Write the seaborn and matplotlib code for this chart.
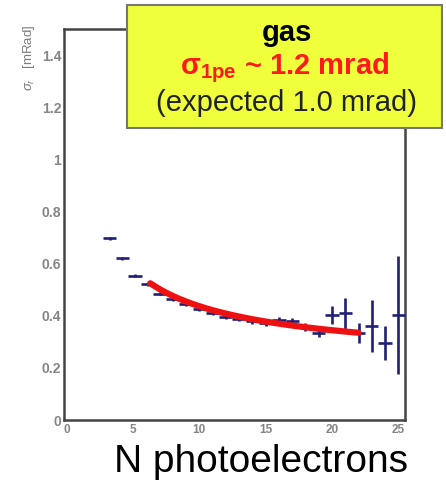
import numpy as np
import pandas as pd
import matplotlib
matplotlib.use("Agg")
import matplotlib.pyplot as plt
from matplotlib.patches import Rectangle
from matplotlib.ticker import MultipleLocator, FixedLocator
import seaborn as sns

# Measured single-track resolution per number of photoelectrons (bin mean N)
n_pe = [3.25, 4.2, 5.15, 6.1, 7, 8, 9, 10, 11, 12, 13, 14, 15, 16, 17, 18, 19,
        20, 21, 22, 23, 24, 25]
sigma = [0.697, 0.620, 0.553, 0.521, 0.485, 0.463, 0.447, 0.427, 0.412, 0.397, 0.387,
         0.378, 0.372, 0.383, 0.380, 0.357, 0.333, 0.404, 0.410, 0.335, 0.360, 0.296, 0.404]
sigma_err = [0.006, 0.006, 0.006, 0.007, 0.007, 0.007, 0.008, 0.008, 0.008, 0.009, 0.009,
             0.010, 0.010, 0.011, 0.012, 0.014, 0.016, 0.035, 0.060, 0.038, 0.100, 0.065, 0.226]
bin_half_width = 0.5

# Fit: sigma(N) = sqrt(sigma_1pe^2 / N + c^2)
sigma_1pe = 1.2
sigma_const = 0.216
fit_range = (6.3, 22.0)

x_ticks = [0, 5, 10, 15, 20, 25]
y_ticks = [0, 0.2, 0.4, 0.6, 0.8, 1.0, 1.2, 1.4]
y_tick_labels = ["0", "0.2", "0.4", "0.6", "0.8", "1", "1.2", "1.4"]

sns.set_theme(style="white")
plt.rcParams["font.family"] = ["Liberation Sans", "DejaVu Sans"]
plt.rcParams["mathtext.fontset"] = "custom"
plt.rcParams["mathtext.rm"] = "Liberation Sans"
plt.rcParams["mathtext.it"] = "Liberation Sans:italic"
plt.rcParams["mathtext.bf"] = "Liberation Sans:bold"

fig = plt.figure(figsize=(4.46, 4.84), dpi=100)
ax = fig.add_axes([0.1435, 0.1322, 0.908 - 0.1435, 0.940 - 0.1322])

df = pd.DataFrame({"N": n_pe, "sigma": sigma, "err": sigma_err})

navy = "#1f1f78"
ax.errorbar(df["N"], df["sigma"], yerr=df["err"], xerr=bin_half_width,
            fmt="none", ecolor=navy, elinewidth=1.9, capsize=0, zorder=3)

n_fit = np.linspace(fit_range[0], fit_range[1], 200)
fit_df = pd.DataFrame({"N": n_fit,
                       "sigma": np.sqrt(sigma_1pe ** 2 / n_fit + sigma_const ** 2)})
sns.lineplot(data=fit_df, x="N", y="sigma", ax=ax, color="#ee1111",
             linewidth=4.5, zorder=4, legend=False)

ax.set_xlim(-0.2, 25.5)
ax.set_ylim(0, 1.5)
ax.xaxis.set_major_locator(FixedLocator(x_ticks))
ax.xaxis.set_minor_locator(MultipleLocator(1))
ax.yaxis.set_major_locator(FixedLocator(y_ticks))
ax.yaxis.set_minor_locator(MultipleLocator(0.04))
ax.set_yticklabels(y_tick_labels)
ax.set_xticklabels([str(t) for t in x_ticks])

ax.tick_params(axis="both", which="major", direction="in", length=9, width=1.6,
               color="#333333", labelsize=10, labelcolor="#858585",
               top=False, right=False, pad=2)
ax.tick_params(axis="both", which="minor", direction="in", length=4.5, width=1.4,
               color="#333333", top=False, right=False)
ax.tick_params(axis="x", which="major", labelsize=8.5, pad=3)
for lab in ax.get_xticklabels() + ax.get_yticklabels():
    lab.set_fontweight("bold")

for side, sp in ax.spines.items():
    sp.set_visible(True)
    sp.set_color("#444444")
    sp.set_linewidth(1.8)

ax.set_xlabel("")
ax.set_ylabel(r"$\sigma_{r}$   [mRad]", fontsize=9.5, color="#7a7a7a", labelpad=0)
ax.yaxis.set_label_coords(-0.08, 0.927)

# Axis title under the plot
fig.text(261 / 446, 1 - 472 / 484, "N photoelectrons", fontsize=28, color="black",
         ha="center", va="baseline")

# Annotation box
box = Rectangle((127 / 446, 1 - 128 / 484), (442 - 127) / 446, (128 - 5) / 484,
                transform=fig.transFigure, facecolor="#efff3c", edgecolor="#777777",
                linewidth=1.5, zorder=10)
fig.patches.append(box)
fig.text(287 / 446, 1 - 33 / 484, "gas", fontsize=21, fontweight="bold",
         color="black", ha="center", va="center", zorder=11)
fig.text(285 / 446, 1 - 68 / 484, r"$\mathbf{\sigma_{1pe}}$ ~ 1.2 mrad", fontsize=21,
         fontweight="bold", color="#ff1a1a", ha="center", va="center", zorder=11)
fig.text(287 / 446, 1 - 103 / 484, "(expected 1.0 mrad)", fontsize=21,
         color="#222222", ha="center", va="center", zorder=11)

fig.savefig("out.png", dpi=100)
